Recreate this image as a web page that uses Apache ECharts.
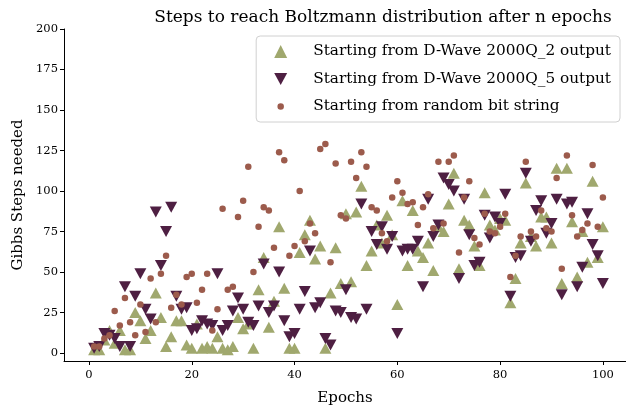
<!DOCTYPE html>
<html>
<head>
<meta charset="utf-8">
<script src="https://cdn.jsdelivr.net/npm/echarts@6/dist/echarts.min.js"></script>
<style>
	html, body { margin: 0; padding: 0; background: #fff; }
	#chart { width: 626px; height: 409px; }
</style>
</head>
<body>
<div id="chart"></div>
<script>
// gibbs steps per epoch (epochs 1..100)
var wave2 = [
	2, 2, 8, 14, 6, 14, 2, 2, 25, 20,
	9, 14, 37, 22, 4, 10, 20, 20, 5, 3,
	18, 3, 4, 3, 10, 3, 2, 4, 22, 15,
	18, 3, 39, 59, 16, 32, 78, 40, 3, 3,
	62, 73, 82, 58, 66, 3, 37, 65, 43, 86,
	44, 87, 103, 54, 63, 79, 68, 85, 73, 30,
	94, 54, 88, 63, 59, 68, 51, 78, 75, 92,
	111, 52, 82, 79, 66, 54, 99, 79, 76, 83,
	82, 31, 46, 68, 105, 72, 66, 84, 84, 68,
	114, 43, 114, 81, 47, 75, 56, 106, 59, 78
];
var wave5 = [
	3, 4, 12, 11, 9, 4, 41, 4, 35, 49,
	27, 21, 87, 54, 75, 90, 35, 27, 28, 14,
	15, 20, 18, 17, 49, 14, 17, 26, 34, 27,
	19, 17, 29, 55, 25, 29, 50, 20, 10, 12,
	27, 38, 63, 28, 31, 9, 5, 26, 25, 39,
	22, 21, 92, 27, 75, 67, 78, 64, 72, 12,
	63, 64, 64, 69, 41, 95, 72, 79, 108, 104,
	100, 46, 95, 73, 54, 56, 85, 71, 84, 80,
	98, 35, 59, 60, 111, 69, 88, 94, 74, 80,
	95, 36, 92, 93, 41, 53, 86, 67, 60, 43
];
var randomBits = [
	4, 4, 9, 11, 26, 17, 34, 19, 11, 30,
	13, 46, 19, 49, 60, 28, 36, 30, 47, 49,
	31, 39, 49, 14, 27, 89, 39, 41, 84, 94,
	115, 50, 78, 90, 88, 65, 124, 119, 60, 66,
	100, 69, 80, 74, 126, 129, 56, 117, 85, 83,
	118, 108, 124, 115, 90, 88, 74, 69, 96, 106,
	99, 92, 93, 79, 90, 98, 77, 118, 80, 118,
	122, 62, 96, 106, 71, 67, 86, 75, 74, 78,
	86, 47, 60, 72, 118, 75, 72, 88, 77, 75,
	108, 52, 122, 85, 72, 76, 80, 116, 78, 96
];
var seriesNames = [
	'Starting from D-Wave 2000Q_2 output',
	'Starting from D-Wave 2000Q_5 output',
	'Starting from random bit string'
];
var xTicks = [0, 20, 40, 60, 80, 100];
var yTicks = [0, 25, 50, 75, 100, 125, 150, 175, 200];

function toPoints(arr) {
	return arr.map(function (v, i) { return [i + 1, v]; });
}

var font = 'DejaVu Serif';
var downTri = 'path://M0,0L12,0L6,11Z';
// small dot inside a 12x12 box so the legend icon keeps the marker size
var smallDot = 'path://M0,0L0.01,0M3,6A3,3,0,1,0,9,6A3,3,0,1,0,3,6ZM12,12L11.99,12';

var option = {
	animation: false,
	backgroundColor: '#fff',
	title: {
		text: 'Steps to reach Boltzmann distribution after n epochs',
		left: 378,
		textAlign: 'center',
		top: 4,
		textStyle: { fontFamily: font, fontWeight: 'normal', fontSize: 17, color: '#000' }
	},
	legend: {
		orient: 'vertical',
		right: 6,
		top: 36,
		padding: [8, 9, 8, 18],
		itemGap: 12.5,
		itemWidth: 13,
		itemHeight: 13,
		backgroundColor: '#fff',
		borderColor: '#d0d0d0',
		borderWidth: 1,
		borderRadius: 4,
		textStyle: { fontFamily: font, fontSize: 15.3, color: '#000', padding: [0, 0, 0, 21] },
		data: [
			{ name: seriesNames[0], icon: 'triangle' },
			{ name: seriesNames[1], icon: downTri },
			{ name: seriesNames[2], icon: smallDot }
		]
	},
	grid: { left: 64, right: 0, top: 29, bottom: 48, outerBoundsMode: 'none' },
	xAxis: {
		type: 'value',
		min: -4.86,
		max: 104.5,
		name: 'Epochs',
		nameLocation: 'middle',
		nameGap: 30,
		nameTextStyle: { fontFamily: font, fontSize: 15, color: '#000' },
		axisLine: { onZero: false, lineStyle: { color: '#000', width: 1 } },
		axisTick: { show: true, length: 4, customValues: xTicks, lineStyle: { color: '#000' } },
		axisLabel: { customValues: xTicks, fontFamily: font, fontSize: 11.5, color: '#000', margin: 8 },
		splitLine: { show: false }
	},
	yAxis: {
		type: 'value',
		min: -4.9,
		max: 200,
		name: 'Gibbs Steps needed',
		nameLocation: 'middle',
		nameGap: 37,
		nameTextStyle: { fontFamily: font, fontSize: 15, color: '#000' },
		axisLine: { show: true, onZero: false, lineStyle: { color: '#000', width: 1 } },
		axisTick: { show: true, length: 4, customValues: yTicks, lineStyle: { color: '#000' } },
		axisLabel: { customValues: yTicks, fontFamily: font, fontSize: 11.5, color: '#000', margin: 6 },
		splitLine: { show: false }
	},
	series: [{
		name: seriesNames[0],
		type: 'scatter',
		symbol: 'triangle',
		symbolSize: [12, 11],
		itemStyle: { color: '#a0a86e', opacity: 1 },
		data: toPoints(wave2)
	}, {
		name: seriesNames[1],
		type: 'scatter',
		symbol: downTri,
		symbolSize: [12, 11],
		itemStyle: { color: '#4e1f42', opacity: 1 },
		data: toPoints(wave5)
	}, {
		name: seriesNames[2],
		type: 'scatter',
		symbol: 'circle',
		symbolSize: 6.5,
		itemStyle: { color: '#9c5b4c', opacity: 1 },
		data: toPoints(randomBits)
	}]
};

var myChart = echarts.init(document.getElementById('chart'));
myChart.setOption(option);
</script>
</body>
</html>
